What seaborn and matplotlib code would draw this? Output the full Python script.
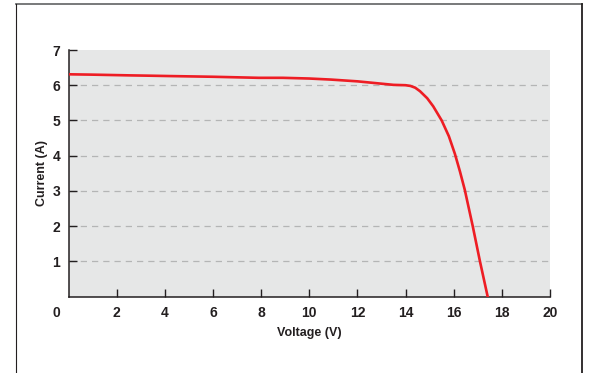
import numpy as np
import pandas as pd
import matplotlib
matplotlib.use('Agg')
import matplotlib.pyplot as plt
import seaborn as sns
from matplotlib.lines import Line2D

# ============================================================
# DATA: I-V curve of a solar module
# ============================================================
voltage = [0, 1, 2.5, 3.4, 4.2, 6, 7.9, 8.9, 10, 10.9, 12, 12.9, 13.5,
           14.0, 14.2, 14.4, 14.6, 14.9, 15.15, 15.5, 15.8, 16.05, 16.26,
           16.46, 16.79, 17.09, 17.41]
current = [6.31, 6.30, 6.28, 6.27, 6.26, 6.24, 6.21, 6.21, 6.19, 6.16, 6.11,
           6.05, 6.01, 6.00, 5.98, 5.93, 5.83, 5.63, 5.40, 5.00, 4.55, 4.05,
           3.55, 3.03, 2.00, 1.00, 0.0]
x_ticks = [2, 4, 6, 8, 10, 12, 14, 16, 18, 20]
y_ticks = [1, 2, 3, 4, 5, 6, 7]

df = pd.DataFrame({'Voltage': voltage, 'Current': current})

plt.rcParams['font.family'] = ['Liberation Sans', 'DejaVu Sans']
plt.rcParams['font.weight'] = 'bold'

dark = '#231f20'

fig = plt.figure(figsize=(5.92, 3.73), dpi=100)
ax = fig.add_axes([68.5 / 592, 1 - 296.5 / 373, (550 - 68.5) / 592, (296.5 - 50) / 373])
ax.set_facecolor('#e6e7e7')

# dashed guide lines
for y in y_ticks[:-1]:
    ax.axhline(y, color='#b4b5b5', lw=0.9, dashes=(5, 4), zorder=1)

sns.lineplot(data=df, x='Voltage', y='Current', color='#ee1d24', lw=1.9,
             ax=ax, zorder=3)

ax.set_xlim(0, 20)
ax.set_ylim(0, 7)
ax.set_xticks(x_ticks)
ax.set_yticks(y_ticks)
ax.tick_params(direction='in', length=6, width=1, color=dark, labelsize=10,
               labelcolor=dark)
ax.tick_params(axis='x', pad=6.5)
ax.tick_params(axis='y', pad=6)
ax.annotate('0', xy=(0, 0), xytext=(-8.5, -6.5), textcoords='offset points',
            ha='center', va='top', fontsize=10, color=dark)

for s in ['top', 'right']:
    ax.spines[s].set_visible(False)
for s in ['left', 'bottom']:
    ax.spines[s].set_color(dark)
    ax.spines[s].set_linewidth(1.1)

ax.set_xlabel('Voltage (V)', fontsize=9, color=dark, fontweight='bold')
ax.set_ylabel('Current (A)', fontsize=9, color=dark, fontweight='bold')
ax.xaxis.set_label_coords(0.5, -0.125)
ax.yaxis.set_label_coords(-0.043, 0.5)

# outer frame
W, H = 592, 373
fig.add_artist(Line2D([15.5 / W, 582 / W], [1 - 4 / H, 1 - 4 / H],
                      transform=fig.transFigure, color='#6d6e70', lw=1.3))
fig.add_artist(Line2D([15.5 / W, 15.5 / W], [0, 1 - 4 / H],
                      transform=fig.transFigure, color=dark, lw=0.8))
fig.add_artist(Line2D([582 / W, 582 / W], [0, 1 - 4 / H],
                      transform=fig.transFigure, color=dark, lw=1.3))

fig.savefig('out.png', dpi=100)
